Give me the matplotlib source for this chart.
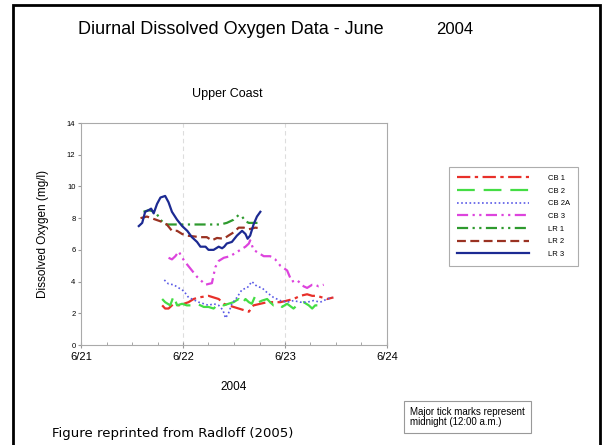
import matplotlib
matplotlib.use("Agg")
import matplotlib.pyplot as plt
from matplotlib.patches import Rectangle
import numpy as np

plt.rcParams['font.family'] = ['Liberation Sans', 'DejaVu Sans']

# hours since 6/21 00:00 and dissolved oxygen (mg/l)
lr3_t = [13.6, 14.4, 15.1, 15.9, 16.5, 17.1, 17.9, 18.7, 19.8, 20.6, 21.4, 22.6, 23.8, 25.0, 26.1, 27.3, 28.1,
         29.3, 30.0, 31.2, 32.4, 33.2, 33.7, 34.3, 35.5, 36.7, 37.9, 38.7, 39.2, 39.8, 40.6, 41.4, 42.2]
lr3_v = [7.5, 7.7, 8.4, 8.5, 8.6, 8.3, 8.9, 9.3, 9.4, 9.0, 8.4, 7.9, 7.5, 7.2, 6.8, 6.5, 6.2,
         6.2, 6.0, 6.0, 6.2, 6.1, 6.2, 6.4, 6.5, 6.9, 7.2, 7.0, 6.7, 6.9, 7.6, 8.1, 8.4]

lr1_t = [14.7, 15.9, 17.5, 18.7, 19.8, 21.0, 23.4, 26.5, 29.6, 32.8, 34.3, 35.9, 37.1, 37.9, 38.7, 39.5, 40.6, 41.8]
lr1_v = [8.4, 8.5, 8.4, 7.9, 7.6, 7.6, 7.6, 7.6, 7.6, 7.6, 7.7, 7.9, 8.2, 8.1, 7.8, 7.7, 7.7, 7.7]

lr2_t = [14.0, 15.5, 17.1, 18.7, 20.2, 21.4, 22.6, 23.8, 24.9, 26.5, 28.1, 29.6, 30.8, 32.0, 33.6, 34.7,
         35.9, 37.1, 38.3, 39.5, 41.0, 42.6]
lr2_v = [8.0, 8.1, 7.95, 7.8, 7.6, 7.2, 7.2, 7.0, 6.9, 6.85, 6.8, 6.8, 6.6, 6.75, 6.7, 6.9,
         7.1, 7.4, 7.4, 7.3, 7.4, 7.35]

cb3_t = [20.6, 21.4, 22.2, 23.0, 23.8, 24.9, 26.1, 27.3, 28.5, 29.3, 30.0, 30.8, 31.6, 32.4, 33.6, 35.1, 36.3,
         37.5, 38.7, 39.5, 39.8, 40.6, 41.8, 43.0, 44.5, 45.7, 46.9, 48.5, 49.6, 50.8, 51.6, 52.4, 53.2,
         54.4, 55.1, 55.9, 57.1]
cb3_v = [5.5, 5.4, 5.6, 5.9, 5.5, 5.1, 4.7, 4.3, 4.0, 3.8, 3.85, 3.9, 4.9, 5.3, 5.5, 5.6, 5.8,
         6.0, 6.2, 6.4, 6.6, 6.0, 5.8, 5.6, 5.6, 5.4, 5.0, 4.7, 4.0, 4.1, 3.9, 3.7, 3.6,
         3.8, 3.8, 3.7, 3.8]

cb2a_t = [19.6, 20.6, 21.8, 23.0, 24.2, 25.3, 26.5, 27.7, 28.9, 30.0, 31.2, 32.4, 33.4, 34.0, 34.7, 35.5, 36.7,
          37.9, 39.1, 40.2, 41.4, 42.6, 43.8, 45.3, 46.9, 48.5, 50.0, 51.6, 53.2, 54.7, 56.3, 57.9, 59.1]
cb2a_v = [4.1, 3.85, 3.8, 3.6, 3.4, 3.0, 2.85, 2.7, 2.6, 2.5, 2.6, 2.5, 2.2, 1.7, 2.0, 2.6, 3.0,
          3.5, 3.6, 4.0, 3.7, 3.6, 3.3, 3.0, 2.8, 2.7, 2.8, 2.7, 2.7, 2.8, 2.7, 2.9, 3.0]

cb1_t = [19.1, 19.8, 20.6, 21.8, 23.0, 24.2, 25.3, 26.5, 27.7, 28.9, 30.0, 31.2, 32.4, 33.6, 34.7, 35.9, 37.1,
         38.3, 39.5, 40.6, 42.2, 43.8, 45.3, 46.9, 48.5, 50.0, 51.6, 53.2, 54.4, 55.5, 56.7, 57.9, 59.4]
cb1_v = [2.5, 2.3, 2.3, 2.6, 2.5, 2.6, 2.7, 2.9, 3.0, 3.05, 3.1, 3.0, 2.9, 2.6, 2.5, 2.4, 2.3,
         2.2, 2.1, 2.5, 2.6, 2.7, 2.7, 2.7, 2.8, 2.9, 3.1, 3.2, 3.1, 3.1, 3.0, 2.9, 3.0]

cb2_t = [19.1, 19.8, 21.0, 21.8, 22.6, 23.8, 24.9, 26.1, 27.3, 28.9, 30.0, 31.2, 32.4, 33.6, 34.7, 35.9, 37.1,
         37.9, 38.7, 39.5, 40.2, 41.0, 41.8, 42.6, 43.8, 44.5, 45.3, 46.5, 47.3, 48.5, 50.0, 51.2, 52.4,
         53.6, 54.4, 55.1, 56.3, 57.5]
cb2_v = [2.9, 2.7, 2.5, 3.1, 2.5, 2.6, 2.5, 2.5, 2.6, 2.4, 2.4, 2.3, 2.6, 2.5, 2.6, 2.7, 2.9,
         2.6, 2.9, 2.7, 2.6, 3.1, 2.7, 2.8, 2.9, 2.7, 2.5, 2.6, 2.4, 2.6, 2.3, 2.6, 2.7,
         2.5, 2.3, 2.5, 2.5, 2.4]

day_labels = ['6/21', '6/22', '6/23', '6/24']

fig = plt.figure(figsize=(6.02, 4.45), dpi=100)
ax = fig.add_axes([81 / 602, 1 - 345 / 445, 306 / 602, 222 / 445])

# series drawn in legend order
ax.plot(cb1_t, cb1_v, color='#e8302a', lw=1.6, ls=(0, (6, 2, 1.5, 2)), label='CB 1')
ax.plot(cb2_t, cb2_v, color='#44dd44', lw=1.6, ls=(0, (8, 4)), label='CB 2')
ax.plot(cb2a_t, cb2a_v, color='#5a5ae6', lw=1.2, ls=(0, (1, 1.5)), label='CB 2A')
ax.plot(cb3_t, cb3_v, color='#dd44dd', lw=1.6, ls=(0, (5, 2, 1, 2, 1, 2)), label='CB 3')
ax.plot(lr1_t, lr1_v, color='#2e9a2e', lw=1.6, ls=(0, (5, 2, 1, 2, 1, 2)), label='LR 1')
ax.plot(lr2_t, lr2_v, color='#9a3222', lw=1.6, ls=(0, (4, 2)), label='LR 2')
ax.plot(lr3_t, lr3_v, color='#1c2a92', lw=1.6, ls='-', label='LR 3')

ax.set_xlim(0, 72)
ax.set_ylim(0, 14)
ax.set_xticks([0, 24, 48, 72])
ax.set_xticklabels(day_labels, fontsize=8)
ax.set_xticks(np.arange(0, 73, 6), minor=True)
ax.set_yticks(np.arange(0, 15, 2))
ax.tick_params(axis='y', labelsize=5.5, length=2, color='#999999', pad=2)
ax.tick_params(axis='x', which='major', length=4, color='#999999', direction='inout', pad=3)
ax.tick_params(axis='x', which='minor', length=2, color='#999999', direction='in')
for s in ax.spines.values():
    s.set_color('#aaaaaa')
    s.set_linewidth(0.8)
for d in [24, 48]:
    ax.axvline(d, color='#dddddd', lw=0.8, ls=(0, (4, 3)), zorder=0)

ax.set_xlabel('2004', fontsize=8.5, labelpad=14)
ax.set_ylabel('Dissolved Oxygen (mg/l)', fontsize=8.5)
ax.yaxis.set_label_coords(-0.105, 0.5)

leg = fig.legend(loc='upper left', bbox_to_anchor=(449 / 602, 1 - 167 / 445), fontsize=5.5,
                 frameon=True, fancybox=False, edgecolor='#999999', handlelength=9.5,
                 handletextpad=2.5, labelspacing=0.7, borderpad=1.0, borderaxespad=0)
leg.get_frame().set_linewidth(0.8)

fig.text(78 / 602, 1 - 30 / 445, 'Diurnal Dissolved Oxygen Data - June', fontsize=13, va='center')
fig.text(436 / 602, 1 - 30 / 445, '2004', fontsize=12, va='center')
fig.text(227 / 602, 1 - 94 / 445, 'Upper Coast', fontsize=9, ha='center', va='center')

fig.text(410 / 602, 1 - 417 / 445, 'Major tick marks represent\nmidnight (12:00 a.m.)', fontsize=7,
         va='center', linespacing=1.1,
         bbox=dict(boxstyle='square,pad=0.6', facecolor='white', edgecolor='#999999', lw=0.8))
fig.text(52 / 602, 1 - 433 / 445, 'Figure reprinted from Radloff (2005)', fontsize=9.5,
         family='DejaVu Sans', va='center')

# black slide border
fig.patches.append(Rectangle((13 / 602, -0.05), 587 / 602, 1.05 - 5 / 445, transform=fig.transFigure,
                             fill=False, edgecolor='black', lw=2))

fig.savefig('out.png', dpi=100)
